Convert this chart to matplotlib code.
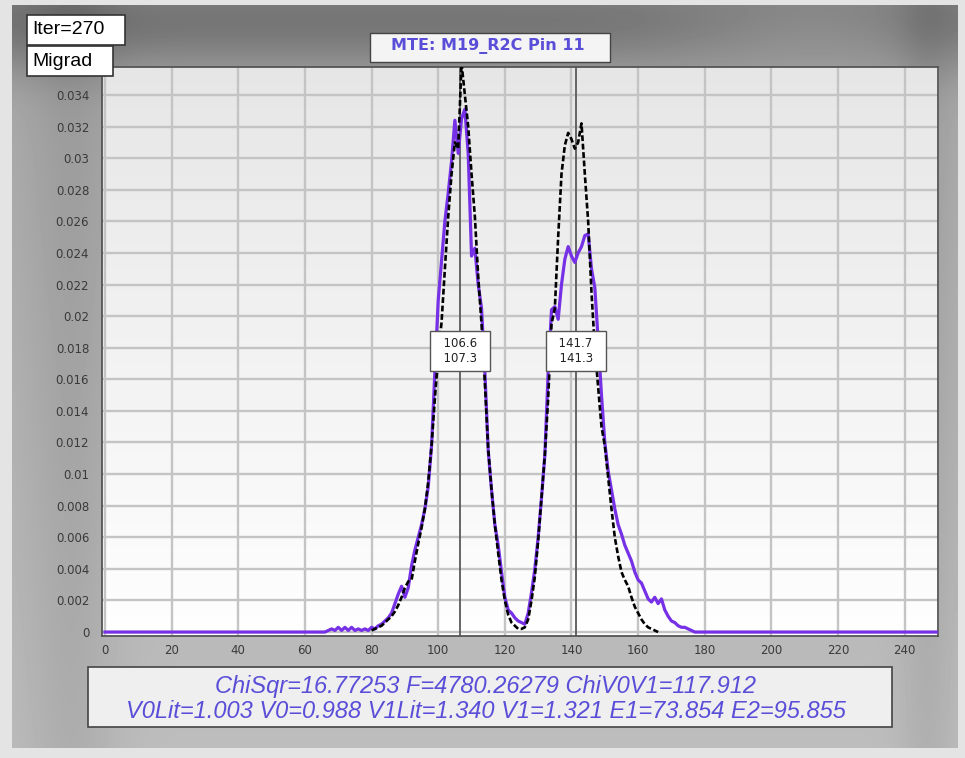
import numpy as np
import matplotlib
matplotlib.use("Agg")
import matplotlib.pyplot as plt
from matplotlib.patches import Rectangle

# ---- data ----
x_ticks = [0, 20, 40, 60, 80, 100, 120, 140, 160, 180, 200, 220, 240]
y_ticks = [0, 0.002, 0.004, 0.006, 0.008, 0.01, 0.012, 0.014, 0.016, 0.018,
           0.02, 0.022, 0.024, 0.026, 0.028, 0.03, 0.032, 0.034]
y_tick_labels = ["0", "0.002", "0.004", "0.006", "0.008", "0.01", "0.012", "0.014",
                 "0.016", "0.018", "0.02", "0.022", "0.024", "0.026", "0.028",
                 "0.03", "0.032", "0.034"]

# measured histogram (purple), bins 66..177
meas_start = 66
meas_vals = [0, 0.0001, 0.0002, 0.0001, 0.0003, 0.0001, 0.0003, 0.0001, 0.0003, 0.0001,
             0.0002, 0.0001, 0.0002, 0.0001, 0.0003, 0.0002, 0.0004, 0.0005, 0.0007, 0.0009,
             0.0012, 0.0018, 0.0024, 0.0029, 0.0022, 0.0028, 0.0042, 0.0052, 0.006, 0.0068,
             0.0078, 0.0092, 0.0118, 0.0165, 0.021, 0.0235, 0.026, 0.0278, 0.0298, 0.0324,
             0.0303, 0.0325, 0.0331, 0.0303, 0.0238, 0.0243, 0.022, 0.0205, 0.0165, 0.0115,
             0.009, 0.0068, 0.0055, 0.0038, 0.0022, 0.0014, 0.0012, 0.0009, 0.0007, 0.0006,
             0.0005, 0.0012, 0.0025, 0.004, 0.006, 0.0085, 0.0112, 0.0165, 0.0204, 0.0206,
             0.0198, 0.022, 0.0236, 0.0244, 0.0238, 0.0234, 0.024, 0.0244, 0.0251, 0.0252,
             0.023, 0.0218, 0.0185, 0.015, 0.012, 0.0102, 0.009, 0.0078, 0.0068, 0.0062,
             0.0055, 0.005, 0.0045, 0.0038, 0.0033, 0.0031, 0.0026, 0.0021, 0.0019, 0.0022,
             0.0018, 0.0021, 0.0014, 0.001, 0.0007, 0.0006, 0.0004, 0.0003, 0.0003, 0.0002,
             0.0001, 0]
range_ends = [0, 250]  # flat zero line spans the whole axis

# fitted curve (black dashed), bins 80..166
fit_start = 80
fit_vals = [0.0001, 0.0002, 0.0003, 0.0004, 0.0006, 0.0008, 0.001, 0.0013, 0.0017, 0.0022,
            0.0028, 0.0032, 0.0033, 0.0045, 0.0056, 0.0066, 0.0078, 0.0095, 0.0118, 0.0148,
            0.0175, 0.0196, 0.023, 0.0263, 0.029, 0.031, 0.0306, 0.036, 0.034, 0.032,
            0.029, 0.0263, 0.0225, 0.0195, 0.0158, 0.0116, 0.009, 0.0068, 0.005, 0.0033,
            0.002, 0.0011, 0.0006, 0.0004, 0.0002, 0.0002, 0.0003, 0.0008, 0.002, 0.0035,
            0.0058, 0.0085, 0.0112, 0.0148, 0.0195, 0.0205, 0.025, 0.029, 0.0308, 0.0316,
            0.0312, 0.0306, 0.031, 0.0322, 0.029, 0.026, 0.0215, 0.018, 0.0155, 0.013,
            0.0118, 0.0098, 0.0078, 0.006, 0.0048, 0.0038, 0.0033, 0.0029, 0.0022, 0.0016,
            0.0012, 0.0008, 0.0005, 0.0003, 0.0002, 0.0001, 0]

peak_lines = [106.6, 141.3]
peak_labels = ["106.6\n107.3", "141.7\n141.3"]
peak_label_y = 0.0178

title = "MTE: M19_R2C Pin 11"
iter_text = "Iter=270"
method_text = "Migrad"
stats_lines = ["ChiSqr=16.77253 F=4780.26279 ChiV0V1=117.912",
               "V0Lit=1.003 V0=0.988 V1Lit=1.340 V1=1.321 E1=73.854 E2=95.855"]

W, H = 965, 758
purple = "#7630e6"
textblue = "#5a4ed8"


def fx(px):
    return px / W


def fy(py):
    return 1 - py / H


fig = plt.figure(figsize=(W / 100, H / 100), dpi=100)
fig.patch.set_facecolor("#e4e4e4")

# blurred grey window background
bg = fig.add_axes([0, 0, 1, 1], zorder=-10)
yy, xx = np.mgrid[0:1:200j, 0:1:200j]
shade = 0.66 + 0.08 * yy - 0.20 * np.exp(-((yy - 0.02) / 0.07) ** 2)
shade += 0.08 * np.exp(-((yy - 0.03) / 0.05) ** 2) * np.exp(-((xx - 0.85) / 0.15) ** 2)
shade -= 0.06 * np.exp(-((xx - 0.06) / 0.05) ** 2)
shade -= 0.05 * np.exp(-((xx - 0.97) / 0.03) ** 2)
bg.imshow(shade, cmap="gray", vmin=0, vmax=1, extent=[12, 958, 748, 5],
          aspect="auto", interpolation="bilinear")
bg.set_xlim(0, W)
bg.set_ylim(H, 0)
bg.axis("off")

left, right, top, bottom = 101.7, 938, 67, 636
ax = fig.add_axes([fx(left), fy(bottom), (right - left) / W, (bottom - top) / H])

# plot area light gradient (grey at top, white at bottom)
grad = np.linspace(0.90, 0.995, 100).reshape(-1, 1)
ax.imshow(grad, cmap="gray", vmin=0, vmax=1, extent=[-1, 250, -0.00025, 0.03577],
          origin="upper", aspect="auto", zorder=0, interpolation="bilinear")
ax.set_xlim(-1, 250)
ax.set_ylim(-0.00025, 0.03577)

ax.set_xticks(x_ticks)
ax.set_yticks(y_ticks)
ax.set_yticklabels(y_tick_labels)
ax.grid(True, color="#c4c4c4", linewidth=1.7, zorder=1)
ax.set_axisbelow(True)
ax.tick_params(length=0, labelsize=8.5, labelcolor="#3a3a3a")
ax.tick_params(axis="x", pad=6)
ax.tick_params(axis="y", pad=9)
for s in ax.spines.values():
    s.set_color("#555555")
    s.set_linewidth(1.3)

for xv in peak_lines:
    ax.axvline(xv, color="#5a5a5a", linewidth=1.3, zorder=2)

mx = np.concatenate([[range_ends[0]], np.arange(meas_start, meas_start + len(meas_vals)),
                     [range_ends[1]]])
my = np.concatenate([[0], meas_vals, [0]])
ax.plot(mx, my, color=purple, linewidth=2.3, zorder=3)

fxs = np.arange(fit_start, fit_start + len(fit_vals))
ax.plot(fxs, fit_vals, color="black", linewidth=1.9, linestyle=(0, (2.2, 1.0)), zorder=4)

for xv, lab in zip(peak_lines, peak_labels):
    padded = "\n".join("  " + s + "  " for s in lab.split("\n"))
    ax.text(xv, peak_label_y, padded, ha="center", va="center", fontsize=8.5,
            color="#222222", linespacing=1.2, zorder=6,
            bbox=dict(boxstyle="square,pad=0.5", facecolor="white",
                      edgecolor="#555555", linewidth=1.0))

# title box
fig.add_artist(Rectangle((fx(370), fy(62)), (610 - 370) / W, 29 / H,
                         transform=fig.transFigure, facecolor="#f4f4f4",
                         edgecolor="#444444", linewidth=1.0))
fig.text(fx(488), fy(46), title, ha="center", va="center", fontsize=11.5,
         fontweight="bold", color=textblue)

# Iter / Migrad boxes
fig.add_artist(Rectangle((fx(27), fy(45)), 98 / W, 30 / H, transform=fig.transFigure,
                         facecolor="white", edgecolor="#333333", linewidth=1.2))
fig.add_artist(Rectangle((fx(27), fy(76)), 86 / W, 30 / H, transform=fig.transFigure,
                         facecolor="white", edgecolor="#333333", linewidth=1.2))
fig.text(fx(32), fy(30), iter_text, ha="left", va="center", fontsize=14,
         family="Liberation Sans", color="black")
fig.text(fx(32), fy(61), method_text, ha="left", va="center", fontsize=14,
         family="Liberation Sans", color="black")

# stats box
fig.add_artist(Rectangle((fx(88), fy(727)), (892 - 88) / W, 60 / H,
                         transform=fig.transFigure, facecolor="#efefef",
                         edgecolor="#444444", linewidth=1.2))
fig.text(fx(486), fy(687), stats_lines[0], ha="center", va="center", fontsize=17,
         style="italic", family="Liberation Sans", color=textblue)
fig.text(fx(486), fy(712), stats_lines[1], ha="center", va="center", fontsize=17,
         style="italic", family="Liberation Sans", color=textblue)

fig.savefig("out.png", dpi=100)
